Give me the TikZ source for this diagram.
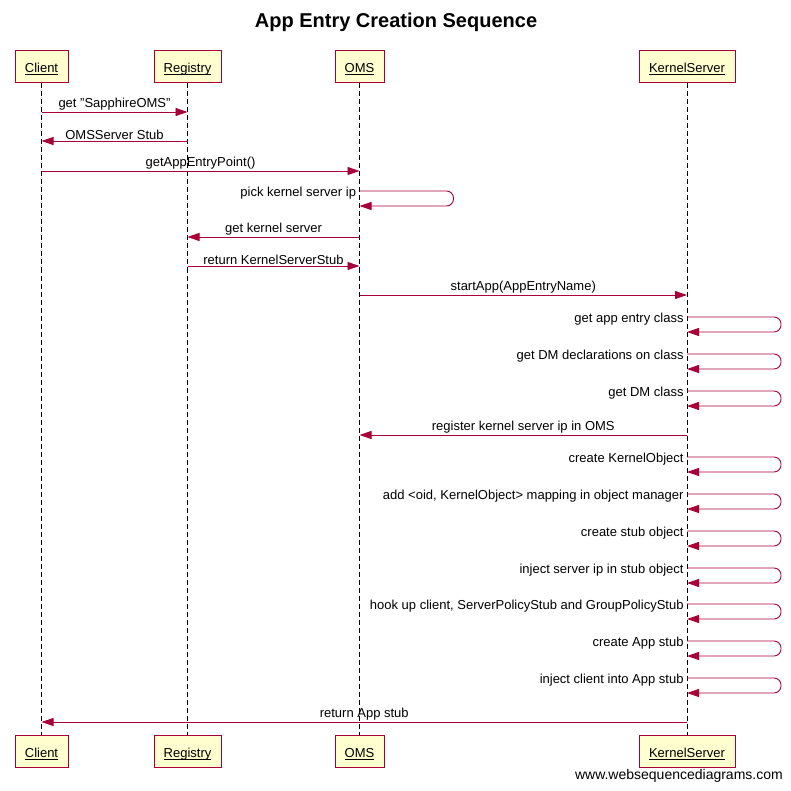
\documentclass[tikz,border=0pt]{standalone}
\usepackage{fontspec}
\setmainfont{Liberation Sans}
\usetikzlibrary{arrows.meta}
\definecolor{wsdred}{HTML}{A80036}
\definecolor{wsdfill}{HTML}{FEFECE}
\newcommand{\ulbox}[1]{\setbox0=\hbox{#1}\rlap{\rule[-2pt]{\wd0}{0.7pt}}\box0}
\tikzset{
  actor/.style={draw=wsdred, fill=wsdfill, line width=1pt, minimum height=32pt, inner sep=0pt, text height=12pt, text depth=0.6pt, font=\fontsize{13}{15}\selectfont},
  life/.style={draw=black, line width=0.8pt, dash pattern=on 5pt off 3pt},
  msg/.style={draw=wsdred, line width=0.9pt, -{Triangle[length=12pt,width=8pt]}},
  selfmsg/.style={msg, rounded corners=7pt},
  lbl/.style={font=\fontsize{13}{15}\selectfont, text=black, inner sep=1pt},
}
\newcommand{\selfcall}[3]{% lifeline, y, label
  \draw[selfmsg] (#1 |- 0,#2) node[lbl, left, xshift=-2pt, yshift=-2pt] {#3} -- ++(94,0) -- ++(0,15) -- (#1 |- 0,{#2+15});
}
\begin{document}
\begin{tikzpicture}[x=1pt,y=-1pt]
\useasboundingbox (0,0) rectangle (791,791);
\node[font=\fontsize{20}{24}\selectfont\bfseries] (title) at (396,22) {App Entry Creation Sequence};

\node[actor, minimum width=53pt] (client) at (41.5,67) {\ulbox{Client}};
\node[actor, minimum width=67pt] (registry) at (187.5,67) {\ulbox{Registry}};
\node[actor, minimum width=49pt] (oms) at (359.5,67) {\ulbox{OMS}};
\node[actor, minimum width=96pt] (ks) at (687,67) {\ulbox{KernelServer}};

\node[actor, minimum width=53pt] (clientb) at (41.5,751.5) {\ulbox{Client}};
\node[actor, minimum width=67pt] (registryb) at (187.5,751.5) {\ulbox{Registry}};
\node[actor, minimum width=49pt] (omsb) at (359.5,751.5) {\ulbox{OMS}};
\node[actor, minimum width=96pt] (ksb) at (687,751.5) {\ulbox{KernelServer}};

\draw[life] (client.south) -- (clientb.north);
\draw[life] (registry.south) -- (registryb.north);
\draw[life] (oms.south) -- (omsb.north);
\draw[life] (ks.south) -- (ksb.north);

\draw[msg] (client |- 0,112) -- node[lbl, above] {get "SapphireOMS"} (registry |- 0,112);
\draw[msg] (registry |- 0,141) -- node[lbl, above] {OMSServer Stub} (client |- 0,141);
\draw[msg] (client |- 0,171) -- node[lbl, above] {getAppEntryPoint()} (oms |- 0,171);
\selfcall{oms}{191}{pick kernel server ip}
\draw[msg] (oms |- 0,237) -- node[lbl, above] {get kernel server} (registry |- 0,237);
\draw[msg] (registry |- 0,266) -- node[lbl, above] {return KernelServerStub} (oms |- 0,266);
\draw[msg] (oms |- 0,295) -- node[lbl, above] {startApp(AppEntryName)} (ks |- 0,295);
\selfcall{ks}{317}{get app entry class}
\selfcall{ks}{354}{get DM declarations on class}
\selfcall{ks}{391}{get DM class}
\draw[msg] (ks |- 0,435) -- node[lbl, above] {register kernel server ip in OMS} (oms |- 0,435);
\selfcall{ks}{457}{create KernelObject}
\selfcall{ks}{494}{add <oid, KernelObject> mapping in object manager}
\selfcall{ks}{531}{create stub object}
\selfcall{ks}{568}{inject server ip in stub object}
\selfcall{ks}{604}{hook up client, ServerPolicyStub and GroupPolicyStub}
\selfcall{ks}{641}{create App stub}
\selfcall{ks}{678}{inject client into App stub}
\draw[msg] (ks |- 0,722) -- node[lbl, above] {return App stub} (client |- 0,722);

\node[font=\fontsize{14}{16}\selectfont, anchor=east, inner sep=0pt] (footer) at (783,776) {www.websequencediagrams.com};
\end{tikzpicture}
\end{document}
